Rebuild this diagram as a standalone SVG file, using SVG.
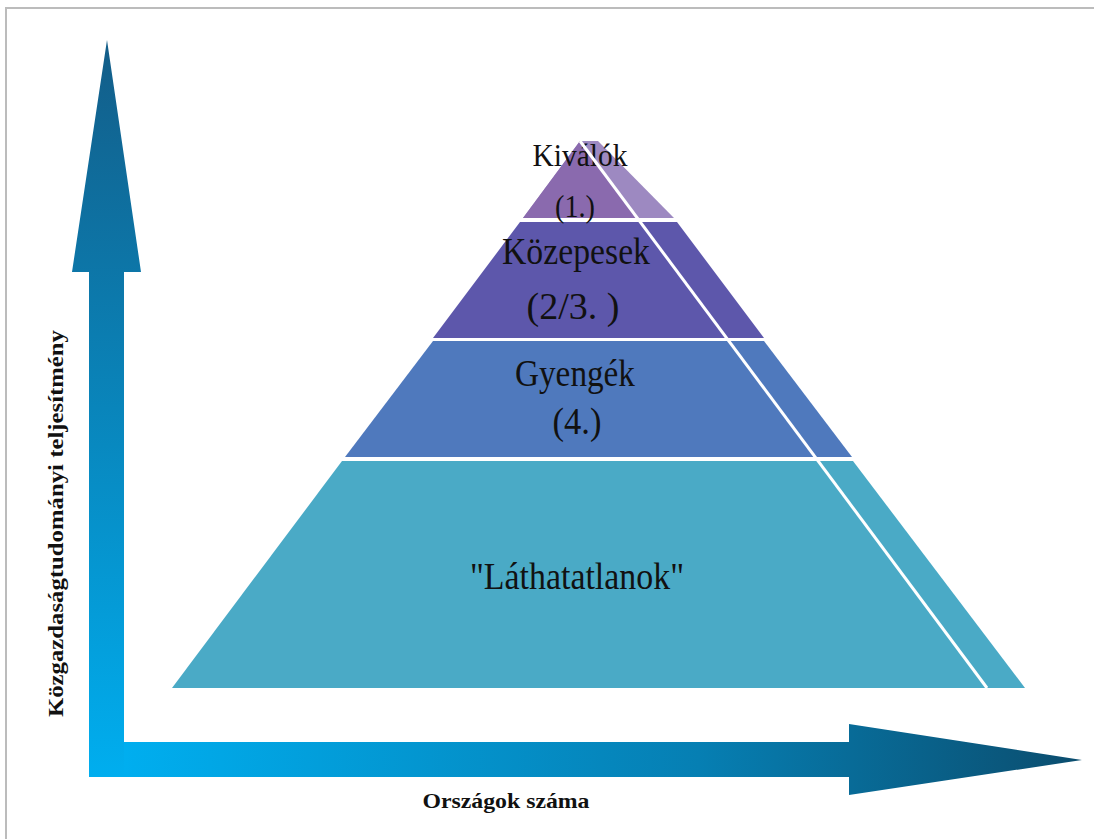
<svg xmlns="http://www.w3.org/2000/svg" width="1094" height="839" viewBox="0 0 1094 839">
<defs>
<linearGradient id="gv" gradientUnits="userSpaceOnUse" x1="0" y1="777" x2="0" y2="40">
<stop offset="0" stop-color="#00aeef"/>
<stop offset="0.45" stop-color="#0889c0"/>
<stop offset="1" stop-color="#135d88"/>
</linearGradient>
<linearGradient id="gh" gradientUnits="userSpaceOnUse" x1="124" y1="0" x2="1082" y2="0">
<stop offset="0" stop-color="#00aeef"/>
<stop offset="0.6" stop-color="#067fb3"/>
<stop offset="1" stop-color="#0b4d6e"/>
</linearGradient>
<style>
.lbl{font-family:"Liberation Serif","Times New Roman",serif;fill:#111;text-anchor:middle}
.ax{font-family:"Liberation Serif","Times New Roman",serif;font-weight:bold;fill:#111;text-anchor:middle}
.sep{stroke:#fff;stroke-width:3;fill:none}
</style>
</defs>
<rect x="0" y="0" width="1094" height="839" fill="#fff"/>
<path d="M6,839 V8 H1094" fill="none" stroke="#bcbcbc" stroke-width="2"/>

<g id="axes">
<polygon points="89,777 89,272 72,272 107,40 141,272 124,272 124,777" fill="url(#gv)"/>
<polygon points="124,742 849,742 849,724 1082,760 849,795 849,777 124,777" fill="url(#gh)"/>
</g>

<g id="band4">
<polygon points="342,461 853,461 1025,688 172,688" fill="#4aaac6"/>
<text class="lbl" x="577" y="589" font-size="37" textLength="214" lengthAdjust="spacingAndGlyphs">"Láthatatlanok"</text>
</g>
<g id="band3">
<polygon points="433,341 764,341 852,457 345,457" fill="#4f79bd"/>
<text class="lbl" x="575" y="386" font-size="37" textLength="120" lengthAdjust="spacingAndGlyphs">Gyengék</text>
<text class="lbl" x="577" y="434" font-size="37" textLength="49" lengthAdjust="spacingAndGlyphs">(4.)</text>
</g>
<g id="band2">
<polygon points="520,222 677,222 764,338 433,338" fill="#5d57ab"/>
<text class="lbl" x="576" y="264" font-size="38" textLength="148" lengthAdjust="spacingAndGlyphs">Közepesek</text>
<text class="lbl" x="573" y="319" font-size="38" textLength="93" lengthAdjust="spacingAndGlyphs">(2/3. )</text>
</g>
<g id="band1">
<polygon points="580,141 598,141 674,218 523,218" fill="#9d89c1"/>
<polygon points="580,141 637,218 523,218" fill="#8a6aae"/>
<text class="lbl" x="580" y="166" font-size="31" textLength="95" lengthAdjust="spacingAndGlyphs">Kiválók</text>
<text class="lbl" x="575" y="217" font-size="32" textLength="40" lengthAdjust="spacingAndGlyphs">(1.)</text>
</g>

<g id="edges">
<line class="sep" x1="580" y1="141" x2="987" y2="688"/>
</g>

<g id="labels">
<text class="ax" x="506" y="808" font-size="21" textLength="167" lengthAdjust="spacingAndGlyphs">Országok száma</text>
<text class="ax" transform="translate(63,523.5) rotate(-90)" x="0" y="0" font-size="21" textLength="387" lengthAdjust="spacingAndGlyphs">Közgazdaságtudományi teljesítmény</text>
</g>
</svg>
